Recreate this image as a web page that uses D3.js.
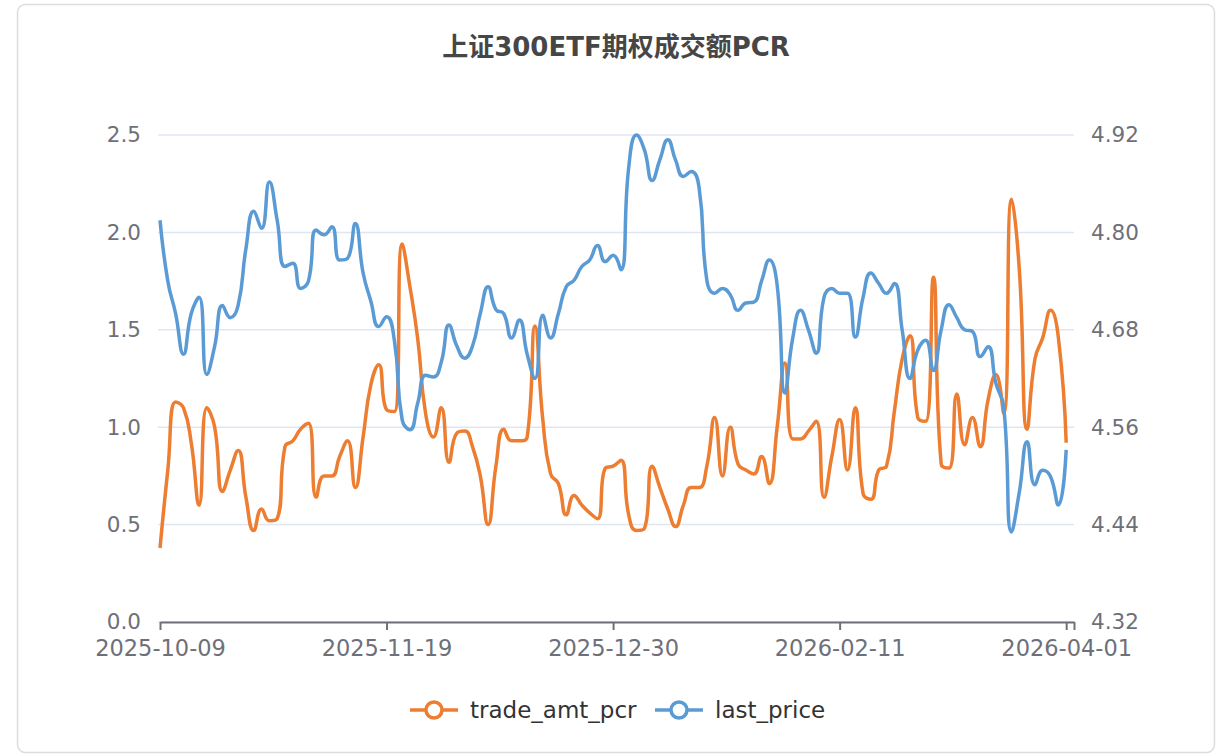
<!DOCTYPE html>
<html>
<head>
<meta charset="utf-8">
<script src="https://cdn.jsdelivr.net/npm/d3@7"></script>
<style>
  html, body { margin: 0; padding: 0; background: #fff; }
  svg { display: block; }
  text { font-family: "DejaVu Sans", "Noto Sans CJK SC", sans-serif; }
</style>
</head>
<body>
<svg id="chart" width="1228" height="755"></svg>
<script>
// ---- data ----
var chartTitle = "上证300ETF期权成交额PCR";
var seriesNames = ["trade_amt_pcr", "last_price"];

var dates = [
  "2025-10-09","2025-10-10","2025-10-13","2025-10-14","2025-10-15","2025-10-16","2025-10-17",
  "2025-10-20","2025-10-21","2025-10-22","2025-10-23","2025-10-24","2025-10-27","2025-10-28",
  "2025-10-29","2025-10-30","2025-10-31",
  "2025-11-03","2025-11-04","2025-11-05","2025-11-06","2025-11-07","2025-11-10","2025-11-11",
  "2025-11-12","2025-11-13","2025-11-14","2025-11-17","2025-11-18","2025-11-19","2025-11-20",
  "2025-11-21","2025-11-24","2025-11-25","2025-11-26","2025-11-27","2025-11-28",
  "2025-12-01","2025-12-02","2025-12-03","2025-12-04","2025-12-05","2025-12-08","2025-12-09",
  "2025-12-10","2025-12-11","2025-12-12","2025-12-15","2025-12-16","2025-12-17","2025-12-18",
  "2025-12-19","2025-12-22","2025-12-23","2025-12-24","2025-12-25","2025-12-26","2025-12-29",
  "2025-12-30","2025-12-31",
  "2026-01-05","2026-01-06","2026-01-07","2026-01-08","2026-01-09","2026-01-12","2026-01-13",
  "2026-01-14","2026-01-15","2026-01-16","2026-01-19","2026-01-20","2026-01-21","2026-01-22",
  "2026-01-23","2026-01-26","2026-01-27","2026-01-28","2026-01-29","2026-01-30",
  "2026-02-02","2026-02-03","2026-02-04","2026-02-05","2026-02-06","2026-02-09","2026-02-10",
  "2026-02-11","2026-02-12","2026-02-13","2026-02-24","2026-02-25","2026-02-26","2026-02-27",
  "2026-03-02","2026-03-03","2026-03-04","2026-03-05","2026-03-06","2026-03-09","2026-03-10",
  "2026-03-11","2026-03-12","2026-03-13","2026-03-16","2026-03-17","2026-03-18","2026-03-19",
  "2026-03-20","2026-03-23","2026-03-24","2026-03-25","2026-03-26","2026-03-27","2026-03-30",
  "2026-03-31","2026-04-01","2026-04-02"
];

var tradeAmtPcr = [
  0.38, 0.78, 1.13, 1.10, 0.92, 0.60, 1.10, 1.00, 0.67, 0.78,
  0.88, 0.64, 0.47, 0.58, 0.52, 0.53, 0.90, 0.93, 0.99, 1.02,
  0.64, 0.75, 0.75, 0.85, 0.93, 0.69, 0.95, 1.22, 1.32, 1.09,
  1.08, 1.94, 1.72, 1.45, 1.07, 0.95, 1.10, 0.82, 0.97, 0.98,
  0.90, 0.75, 0.50, 0.80, 0.99, 0.93, 0.93, 0.95, 1.52, 1.04,
  0.76, 0.71, 0.55, 0.65, 0.60, 0.56, 0.53, 0.79, 0.80, 0.83,
  0.55, 0.47, 0.48, 0.80, 0.69, 0.58, 0.49, 0.60, 0.69, 0.69,
  0.80, 1.05, 0.75, 1.00, 0.81, 0.78, 0.76, 0.85, 0.71, 1.00,
  1.33, 0.94, 0.94, 0.98, 1.03, 0.64, 0.85, 1.04, 0.78, 1.10,
  0.66, 0.63, 0.78, 0.80, 1.08, 1.35, 1.47, 1.05, 1.03, 1.77,
  0.81, 0.79, 1.17, 0.91, 1.05, 0.90, 1.14, 1.27, 1.07, 2.17,
  1.81, 0.99, 1.35, 1.46, 1.60, 1.46, 0.92
];

var lastPrice = [
  4.815, 4.740, 4.700, 4.650, 4.700, 4.720, 4.625, 4.660, 4.710, 4.695,
  4.710, 4.780, 4.826, 4.805, 4.862, 4.815, 4.758, 4.762, 4.731, 4.740,
  4.803, 4.797, 4.807, 4.766, 4.768, 4.811, 4.750, 4.715, 4.684, 4.696,
  4.667, 4.569, 4.557, 4.590, 4.624, 4.622, 4.640, 4.686, 4.660, 4.645,
  4.660, 4.700, 4.733, 4.705, 4.700, 4.670, 4.692, 4.650, 4.620, 4.698,
  4.670, 4.700, 4.733, 4.741, 4.758, 4.766, 4.784, 4.764, 4.772, 4.754,
  4.880, 4.920, 4.902, 4.864, 4.890, 4.914, 4.889, 4.869, 4.875, 4.856,
  4.741, 4.725, 4.731, 4.723, 4.704, 4.713, 4.714, 4.740, 4.766, 4.735,
  4.602, 4.670, 4.704, 4.680, 4.651, 4.720, 4.731, 4.725, 4.725, 4.671,
  4.720, 4.750, 4.737, 4.725, 4.737, 4.680, 4.620, 4.655, 4.667, 4.630,
  4.680, 4.711, 4.695, 4.680, 4.678, 4.647, 4.659, 4.614, 4.585, 4.431,
  4.480, 4.542, 4.489, 4.507, 4.499, 4.464, 4.532
];

var leftTicks = [0, 0.5, 1.0, 1.5, 2.0, 2.5];
var rightTicks = [4.32, 4.44, 4.56, 4.68, 4.80, 4.92];
var labelDates = ["2025-10-09", "2025-11-19", "2025-12-30", "2026-02-11", "2026-04-01"];

// ---- layout ----
var W = 1228, H = 755;
var margin = {top: 135, right: 154, bottom: 133, left: 160};
var colors = ["#ED7D31", "#5B9BD5"];
var axisColor = "#6E7079";
var gridColor = "#E0E6F1";

var svg = d3.select("#chart");

// card frame
svg.append("rect")
    .attr("x", 17.5).attr("y", 4.5)
    .attr("width", 1197).attr("height", 748)
    .attr("rx", 8)
    .attr("fill", "#fff")
    .attr("stroke", "#dcdcdc")
    .attr("stroke-width", 1.5);

// title
svg.append("text")
    .attr("x", 616).attr("y", 47)
    .attr("text-anchor", "middle")
    .attr("dominant-baseline", "central")
    .attr("font-size", 26)
    .attr("font-weight", "bold")
    .attr("fill", "#464646")
    .text(chartTitle);

var xScale = d3.scalePoint()
    .domain(dates)
    .range([margin.left, W - margin.right]);

var yLeft = d3.scaleLinear()
    .domain([0, 2.5])
    .range([H - margin.bottom, margin.top]);

var yRight = d3.scaleLinear()
    .domain([4.32, 4.92])
    .range([H - margin.bottom, margin.top]);

// grid lines
svg.append("g")
    .selectAll("line")
    .data(leftTicks)
    .enter().append("line")
    .attr("x1", margin.left - 2)
    .attr("x2", W - margin.right)
    .attr("y1", function(d) { return yLeft(d); })
    .attr("y2", function(d) { return yLeft(d); })
    .attr("stroke", gridColor)
    .attr("stroke-width", 1.5);

// left axis labels (no axis line)
var gLeft = svg.append("g")
    .attr("transform", "translate(" + margin.left + ",0)")
    .call(d3.axisLeft(yLeft).tickValues(leftTicks).tickFormat(d3.format(".1f")).tickSize(0).tickPadding(19));
gLeft.select(".domain").remove();
gLeft.selectAll("text").attr("fill", axisColor).attr("font-size", 21.5).style("font-family", null);

// right axis labels
var gRight = svg.append("g")
    .attr("transform", "translate(" + (W - margin.right) + ",0)")
    .call(d3.axisRight(yRight).tickValues(rightTicks).tickFormat(d3.format(".2f")).tickSize(0).tickPadding(17));
gRight.select(".domain").remove();
gRight.selectAll("text").attr("fill", axisColor).attr("font-size", 21.5).style("font-family", null);

// bottom axis
var gBottom = svg.append("g")
    .attr("transform", "translate(0," + (H - margin.bottom) + ")")
    .call(d3.axisBottom(xScale).tickValues(labelDates).tickSize(8).tickPadding(10).tickSizeOuter(0));
gBottom.select(".domain").attr("stroke", axisColor).attr("stroke-width", 2);
gBottom.selectAll(".tick line").attr("stroke", axisColor).attr("stroke-width", 2);
gBottom.selectAll("text").attr("fill", axisColor).attr("font-size", 22.5).style("font-family", null);
// closing tick at the end of the category axis
svg.append("g")
    .attr("transform", "translate(0," + (H - margin.bottom) + ")")
    .call(d3.axisBottom(xScale).tickValues([dates[dates.length - 1]]).tickFormat("").tickSize(8).tickSizeOuter(0))
    .call(function(g) {
        g.select(".domain").remove();
        g.selectAll(".tick line").attr("stroke", axisColor).attr("stroke-width", 2);
    });

// echarts-like smoothing (smooth: true -> 0.5, no overshoot)
function curveSmooth(context) {
    var pts;
    var smooth = 0.5;
    return {
        areaStart: function() {}, areaEnd: function() {},
        lineStart: function() { pts = []; },
        point: function(x, y) { pts.push([+x, +y]); },
        lineEnd: function() {
            if (!pts.length) return;
            var prevX = pts[0][0], prevY = pts[0][1];
            var cpx0 = prevX, cpy0 = prevY, nextCpx0 = 0, nextCpy0 = 0;
            context.moveTo(prevX, prevY);
            for (var k = 1; k < pts.length; k++) {
                var x = pts[k][0], y = pts[k][1], cpx1, cpy1;
                if (k === pts.length - 1) {
                    cpx1 = x; cpy1 = y;
                } else {
                    var nextX = pts[k + 1][0], nextY = pts[k + 1][1];
                    var vx = nextX - prevX, vy = nextY - prevY;
                    var dx0 = x - prevX, dx1 = nextX - x, dy0 = y - prevY, dy1 = nextY - y;
                    var lenPrev = Math.sqrt(dx0 * dx0 + dy0 * dy0);
                    var lenNext = Math.sqrt(dx1 * dx1 + dy1 * dy1);
                    var ratio = lenNext / (lenNext + lenPrev);
                    nextCpx0 = x + vx * smooth * ratio;
                    nextCpy0 = y + vy * smooth * ratio;
                    nextCpx0 = Math.max(Math.min(nextCpx0, Math.max(nextX, x)), Math.min(nextX, x));
                    nextCpy0 = Math.max(Math.min(nextCpy0, Math.max(nextY, y)), Math.min(nextY, y));
                    vx = nextCpx0 - x; vy = nextCpy0 - y;
                    cpx1 = x - vx * lenPrev / lenNext;
                    cpy1 = y - vy * lenPrev / lenNext;
                    cpx1 = Math.max(Math.min(cpx1, Math.max(prevX, x)), Math.min(prevX, x));
                    cpy1 = Math.max(Math.min(cpy1, Math.max(prevY, y)), Math.min(prevY, y));
                    vx = x - cpx1; vy = y - cpy1;
                    nextCpx0 = x + vx * lenNext / lenPrev;
                    nextCpy0 = y + vy * lenNext / lenPrev;
                }
                context.bezierCurveTo(cpx0, cpy0, cpx1, cpy1, x, y);
                cpx0 = nextCpx0; cpy0 = nextCpy0;
                prevX = x; prevY = y;
            }
        }
    };
}

var linePcr = d3.line()
    .x(function(d, i) { return xScale(dates[i]); })
    .y(function(d) { return yLeft(d); })
    .curve(curveSmooth);

var linePrice = d3.line()
    .x(function(d, i) { return xScale(dates[i]); })
    .y(function(d) { return yRight(d); })
    .curve(curveSmooth);

svg.append("path")
    .datum(tradeAmtPcr)
    .attr("d", linePcr)
    .attr("fill", "none")
    .attr("stroke", colors[0])
    .attr("stroke-width", 3.5)
    .attr("stroke-linejoin", "round");

svg.append("path")
    .datum(lastPrice)
    .attr("d", linePrice)
    .attr("fill", "none")
    .attr("stroke", colors[1])
    .attr("stroke-width", 3.5)
    .attr("stroke-linejoin", "round");

// legend
var legendX = [410, 655];
var legend = svg.append("g").attr("transform", "translate(0,710)");
var items = legend.selectAll("g")
    .data(seriesNames)
    .enter().append("g")
    .attr("transform", function(d, i) { return "translate(" + legendX[i] + ",0)"; });
items.append("line")
    .attr("x1", 0).attr("x2", 48)
    .attr("stroke", function(d, i) { return colors[i]; })
    .attr("stroke-width", 3.5);
items.append("circle")
    .attr("cx", 24).attr("r", 8)
    .attr("fill", "#fff")
    .attr("stroke", function(d, i) { return colors[i]; })
    .attr("stroke-width", 3.5);
items.append("text")
    .attr("x", 60)
    .attr("dominant-baseline", "central")
    .attr("font-size", 23)
    .attr("fill", "#333")
    .text(function(d) { return d; });
</script>
</body>
</html>
